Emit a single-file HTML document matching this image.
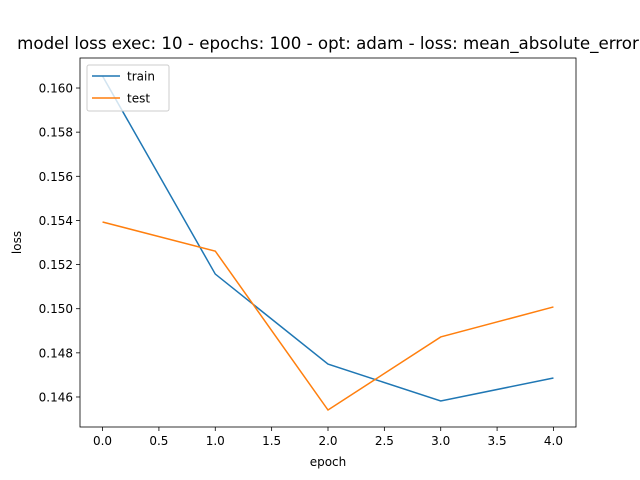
<!DOCTYPE html>
<html><head><meta charset="utf-8"><style>
body{margin:0;background:#fff;}
svg{display:block;font-family:"DejaVu Sans","Liberation Sans",sans-serif;}
</style></head><body>
<svg id="chart" width="640" height="480">
<rect width="640" height="480" fill="#fff"/>
<text x="328" y="49" text-anchor="middle" font-size="16.67">model loss exec: 10 - epochs: 100 - opt: adam - loss: mean_absolute_error</text>
<g id="axes"></g>
</svg>
<script>
const epochs=[0,1,2,3,4];
const trainLoss=[0.16054,0.15157,0.14749,0.14582,0.14686];
const testLoss=[0.15393,0.15261,0.14541,0.14872,0.15008];
const xTicks=[0,0.5,1,1.5,2,2.5,3,3.5,4];
const yTicks=[0.146,0.148,0.150,0.152,0.154,0.156,0.158,0.160];
const L=80,R=576,T=58,B=427;
const xMin=-0.2,xMax=4.2,yMin=0.14464,yMax=0.16136;
const sx=v=>L+(v-xMin)/(xMax-xMin)*(R-L);
const sy=v=>B-(v-yMin)/(yMax-yMin)*(B-T);
const NS='http://www.w3.org/2000/svg';
const g=document.getElementById('axes');
function mk(t,a){const e=document.createElementNS(NS,t);for(const k in a)e.setAttribute(k,a[k]);g.appendChild(e);return e;}
xTicks.forEach(v=>{
 const l=mk('line',{x1:sx(v),x2:sx(v),y1:B,y2:B+4,stroke:'#000','stroke-width':0.8});
 
 
 const t=mk('text',{x:sx(v),y:B+18,'text-anchor':'middle','font-size':12});
 t.textContent=v.toFixed(1);
 
 
});
yTicks.forEach(v=>{
 const l=mk('line',{x1:L-4,x2:L,y1:sy(v),y2:sy(v),stroke:'#000','stroke-width':0.8});
 
 
 const t=mk('text',{x:L-7,y:sy(v)+4.5,'text-anchor':'end','font-size':12});
 t.textContent=v.toFixed(3);
 
 
});
function line(data,color,name){
 const p=mk('polyline',{points:data.map((v,i)=>sx(epochs[i])+','+sy(v)).join(' '),fill:'none',stroke:color,'stroke-width':1.5});
 
 
}
line(trainLoss,'#1f77b4','train-line');
line(testLoss,'#ff7f0e','test-line');
const fr=mk('rect',{x:L,y:T,width:R-L,height:B-T,fill:'none',stroke:'#000','stroke-width':0.8});


const xl=mk('text',{x:(L+R)/2,y:466,'text-anchor':'middle','font-size':12});
xl.textContent='epoch';


const yl=mk('text',{x:21,y:(T+B)/2,'text-anchor':'middle','font-size':12,transform:'rotate(-90 21 '+((T+B)/2)+')'});
yl.textContent='loss';


const lg=mk('rect',{x:87,y:65,width:82,height:46,fill:'#fff','fill-opacity':0.8,stroke:'#ccc','stroke-width':1,rx:2});


[['train','#1f77b4',76],['test','#ff7f0e',98]].forEach(([n,c,y])=>{
 const l=mk('line',{x1:92,x2:120,y1:y,y2:y,stroke:c,'stroke-width':1.5});
 
 
 const t=mk('text',{x:127,y:y+4.5,'font-size':12});
 t.textContent=n;
 
 
});
</script>
</body></html>
